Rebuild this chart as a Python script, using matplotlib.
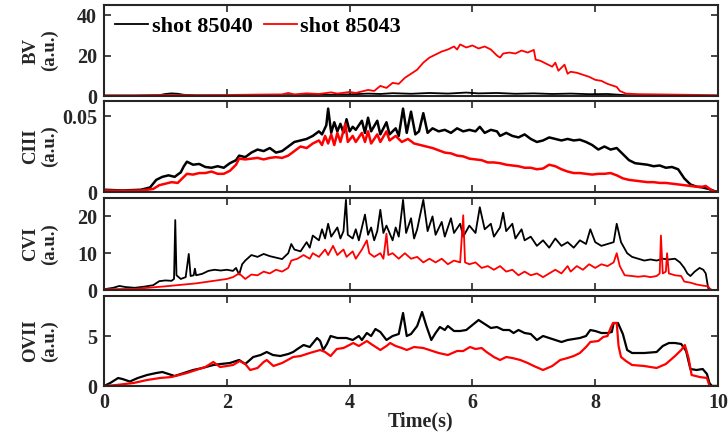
import numpy as np
import matplotlib
matplotlib.use('Agg')
import matplotlib.pyplot as plt

plt.rcParams['font.family'] = ['Liberation Serif', 'DejaVu Serif']
plt.rcParams['font.weight'] = 'bold'

shots = ['shot 85040', 'shot 85043']
colors = ['k', 'r']

# BV signal
bv_t_40 = [0, 0.5, 0.9, 1.0, 1.1, 1.2, 1.3, 1.5, 2.0, 2.5, 3.0, 3.5, 4.0, 4.3, 4.5, 4.7, 5.0, 5.3,
           5.6, 5.9, 6.1, 6.4, 6.7, 7.0, 7.3, 7.6, 7.9, 8.2, 8.5, 9.0, 10]
bv_v_40 = [0.2, 0.2, 0.4, 1.0, 1.3, 1.1, 0.6, 0.3, 0.2, 0.3, 0.4, 0.5, 0.8, 1.2, 1.0, 1.4, 1.1, 1.5,
           1.2, 1.7, 1.3, 1.5, 1.1, 1.3, 1.0, 1.2, 0.9, 1.0, 0.4, 0.2, 0.1]
bv_t_43 = [0, 0.5, 1.0, 1.5, 2.0, 2.5, 2.9, 3.0, 3.1, 3.3, 3.5, 3.7, 3.8, 4.0, 4.1, 4.3, 4.4, 4.5,
           4.6, 4.7, 4.8, 4.9, 5.0, 5.1, 5.2, 5.3, 5.4, 5.5, 5.6, 5.7, 5.75, 5.8, 5.9, 6.0, 6.1,
           6.2, 6.3, 6.4, 6.45, 6.5, 6.6, 6.7, 6.8, 6.9, 7.0, 7.03, 7.1, 7.2, 7.3, 7.35, 7.4, 7.5,
           7.55, 7.6, 7.7, 7.8, 7.9, 8.0, 8.1, 8.2, 8.3, 8.35, 8.4, 8.5, 8.7, 9.0, 9.5, 10]
bv_v_43 = [0.3, 0.3, 0.5, 0.4, 0.5, 0.7, 0.8, 1.5, 0.8, 1.3, 1.0, 1.8, 1.2, 2.0, 1.5, 3.0, 2.5, 5.0,
           4.0, 6.5, 6.0, 9.0, 11.0, 13.0, 16.5, 19.0, 20.5, 22.0, 23.0, 24.5, 23.0, 25.5, 24.0, 25.0, 23.5,
           24.5, 23.0, 20.0, 19.0, 21.0, 21.5, 21.0, 22.5, 21.5, 22.8, 18.0, 17.5, 16.0, 14.5, 16.5, 12.5, 15.5,
           11.0, 12.0, 11.5, 10.5, 9.5, 8.0, 7.5, 6.0, 5.0, 4.5, 2.5, 1.2, 0.9, 0.8, 0.6, 0.4]

# CIII signal
c3_t_40 = [0, 0.3, 0.6, 0.75, 0.85, 0.95, 1.05, 1.15, 1.25, 1.3, 1.35, 1.45, 1.55, 1.65, 1.75, 1.85,
           1.95, 2.05, 2.15, 2.2, 2.3, 2.4, 2.5, 2.6, 2.7, 2.8, 2.9, 3.0, 3.1, 3.2, 3.3, 3.4, 3.5,
           3.55, 3.62, 3.65, 3.7, 3.75, 3.8, 3.85, 3.9, 3.95, 4.0, 4.05, 4.1, 4.2, 4.25, 4.3, 4.35,
           4.45, 4.5, 4.6, 4.65, 4.75, 4.8, 4.87, 4.93, 5.0, 5.07, 5.13, 5.2, 5.27, 5.35, 5.45, 5.55,
           5.65, 5.75, 5.85, 5.95, 6.05, 6.12, 6.2, 6.3, 6.4, 6.45, 6.55, 6.65, 6.75, 6.85, 6.95,
           7.05, 7.15, 7.25, 7.35, 7.45, 7.55, 7.65, 7.75, 7.85, 7.95, 8.05, 8.15, 8.25, 8.35, 8.45,
           8.55, 8.65, 8.75, 8.85, 8.95, 9.05, 9.15, 9.25, 9.35, 9.45, 9.55, 9.65, 9.75, 9.85, 9.95, 10]
c3_v_40 = [0.0015, 0.0010, 0.0015, 0.003, 0.008, 0.010, 0.011, 0.010, 0.013, 0.017, 0.020, 0.018,
           0.0185, 0.0165, 0.016, 0.017, 0.016, 0.019, 0.021, 0.024, 0.023, 0.026, 0.028, 0.027,
           0.029, 0.026, 0.027, 0.030, 0.033, 0.034, 0.035, 0.037, 0.040, 0.038, 0.044, 0.055,
           0.039, 0.046, 0.040, 0.045, 0.039, 0.048, 0.040, 0.043, 0.041, 0.047, 0.039, 0.049,
           0.040, 0.047, 0.038, 0.046, 0.038, 0.042, 0.037, 0.055, 0.039, 0.053, 0.038, 0.040,
           0.052, 0.039, 0.042, 0.040, 0.041, 0.039, 0.042, 0.040, 0.041, 0.040, 0.043, 0.039,
           0.041, 0.040, 0.037, 0.039, 0.037, 0.036, 0.038, 0.035, 0.033, 0.034, 0.036, 0.035,
           0.034, 0.035, 0.034, 0.0345, 0.033, 0.031, 0.028, 0.030, 0.028, 0.029, 0.025, 0.021,
           0.019, 0.0185, 0.018, 0.017, 0.0175, 0.016, 0.0165, 0.015, 0.009, 0.005, 0.0035, 0.003,
           0.002, 0.0005, 0.0003]
c3_t_43 = [0, 0.3, 0.6, 0.8, 0.9, 1.0, 1.1, 1.2, 1.3, 1.35, 1.45, 1.55, 1.65, 1.75, 1.85, 1.95,
           2.05, 2.15, 2.2, 2.3, 2.4, 2.5, 2.6, 2.7, 2.8, 2.9, 3.0, 3.1, 3.2, 3.3, 3.4, 3.5, 3.55,
           3.6, 3.65, 3.7, 3.75, 3.8, 3.85, 3.93, 3.97, 4.05, 4.1, 4.2, 4.25, 4.3, 4.35, 4.45, 4.5,
           4.6, 4.65, 4.75, 4.85, 4.95, 5.05, 5.15, 5.25, 5.35, 5.45, 5.55, 5.65, 5.75, 5.85, 5.95,
           6.05, 6.15, 6.25, 6.35, 6.45, 6.55, 6.65, 6.75, 6.85, 6.95, 7.05, 7.15, 7.25, 7.35, 7.45,
           7.55, 7.65, 7.75, 7.85, 7.95, 8.05, 8.15, 8.25, 8.35, 8.45, 8.55, 8.65, 8.75, 8.85, 8.95,
           9.05, 9.15, 9.25, 9.35, 9.45, 9.55, 9.65, 9.75, 9.8, 9.85, 9.92, 10]
c3_v_43 = [0.0010, 0.0008, 0.0010, 0.002, 0.0045, 0.0055, 0.0065, 0.006, 0.010, 0.012, 0.0115,
           0.0125, 0.0125, 0.0135, 0.012, 0.012, 0.014, 0.018, 0.022, 0.0215, 0.022, 0.0225, 0.0215,
           0.0225, 0.023, 0.0225, 0.024, 0.027, 0.030, 0.029, 0.032, 0.034, 0.031, 0.037, 0.032,
           0.038, 0.031, 0.039, 0.033, 0.045, 0.033, 0.037, 0.033, 0.039, 0.033, 0.040, 0.032,
           0.038, 0.033, 0.040, 0.034, 0.037, 0.033, 0.035, 0.032, 0.031, 0.030, 0.029, 0.0275,
           0.026, 0.0255, 0.024, 0.0235, 0.022, 0.0215, 0.021, 0.0195, 0.0195, 0.019, 0.018, 0.0175,
           0.017, 0.016, 0.016, 0.015, 0.0155, 0.018, 0.017, 0.015, 0.0135, 0.0125, 0.0125, 0.012,
           0.0115, 0.012, 0.012, 0.0125, 0.011, 0.009, 0.008, 0.0075, 0.007, 0.0065, 0.0065, 0.006,
           0.006, 0.0055, 0.005, 0.0045, 0.004, 0.0035, 0.0035, 0.004, 0.0025, 0.0005, 0.0003]

# CVI signal
c6_t_40 = [0, 0.15, 0.25, 0.35, 0.5, 0.65, 0.8, 0.9, 1.0, 1.1, 1.14, 1.16, 1.18, 1.25, 1.33, 1.38,
           1.41, 1.46, 1.48, 1.5, 1.6, 1.7, 1.8, 1.9, 2.0, 2.1, 2.15, 2.2, 2.25, 2.3, 2.4, 2.5, 2.6,
           2.7, 2.8, 2.9, 3.0, 3.05, 3.1, 3.2, 3.3, 3.35, 3.4, 3.5, 3.55, 3.6, 3.65, 3.7, 3.8, 3.85,
           3.9, 3.94, 3.97, 4.05, 4.1, 4.15, 4.25, 4.3, 4.35, 4.4, 4.45, 4.5, 4.55, 4.6, 4.7, 4.75,
           4.8, 4.87, 4.92, 5.0, 5.05, 5.1, 5.2, 5.27, 5.35, 5.4, 5.5, 5.55, 5.65, 5.7, 5.8, 5.85,
           5.95, 6.05, 6.12, 6.2, 6.3, 6.35, 6.45, 6.5, 6.55, 6.65, 6.7, 6.8, 6.85, 6.95, 7.05, 7.15,
           7.25, 7.35, 7.45, 7.55, 7.65, 7.75, 7.85, 7.92, 8.0, 8.1, 8.2, 8.3, 8.35, 8.42, 8.52, 8.6,
           8.7, 8.8, 8.9, 9.0, 9.1, 9.2, 9.3, 9.38, 9.45, 9.5, 9.55, 9.62, 9.7, 9.76, 9.8, 9.84, 9.9, 10]
c6_v_40 = [0.2, 0.6, 1.1, 0.8, 0.6, 0.9, 1.3, 2.4, 2.6, 2.5, 3.0, 19.0, 4.0, 3.0, 3.5, 9.8,
           3.8, 4.0, 5.8, 4.0, 4.4, 5.2, 5.5, 5.3, 5.5, 5.2, 6.0, 4.2, 7.0, 8.0, 9.5, 9.0, 9.8,
           9.2, 8.8, 8.4, 10.0, 12.5, 11.0, 10.5, 13.0, 11.5, 14.8, 13.5, 16.5, 14.0, 18.0, 14.5, 17.0, 14.0,
           16.0, 24.5, 15.0, 14.0, 16.5, 13.5, 20.5, 15.0, 17.0, 13.5, 16.0, 21.8, 15.5, 17.5, 13.5, 17.0,
           14.5, 24.5, 15.5, 19.5, 14.0, 16.5, 24.5, 16.0, 20.0, 15.0, 18.5, 14.5, 19.5, 15.5, 18.0, 14.5,
           17.5, 15.5, 22.5, 16.5, 18.0, 14.5, 17.0, 21.0, 16.0, 18.0, 14.0, 16.5, 13.5, 14.5, 12.0, 13.5,
           11.5, 14.0, 12.0, 13.0, 11.5, 13.5, 12.5, 16.5, 13.0, 12.0, 12.5, 13.0, 18.0, 13.0, 10.0, 9.0,
           8.5, 8.0, 8.3, 8.0, 8.5, 8.3, 8.5, 7.5, 6.0, 4.5, 3.8, 5.0, 6.0, 5.5, 4.5, 0.5, 0.0, 0.0]
c6_t_43 = [0, 0.5, 1.0, 1.5, 2.0, 2.1, 2.2, 2.3, 2.4, 2.5, 2.6, 2.7, 2.8, 2.9, 3.0, 3.05, 3.15,
           3.25, 3.35, 3.4, 3.5, 3.6, 3.65, 3.73, 3.8, 3.9, 3.95, 4.05, 4.1, 4.2, 4.28, 4.32, 4.4,
           4.5, 4.55, 4.6, 4.63, 4.7, 4.8, 4.9, 5.0, 5.1, 5.2, 5.3, 5.4, 5.5, 5.6, 5.7, 5.8, 5.85,
           5.88, 5.95, 6.05, 6.15, 6.25, 6.35, 6.45, 6.55, 6.65, 6.75, 6.85, 6.95, 7.05, 7.15, 7.25,
           7.35, 7.45, 7.55, 7.6, 7.7, 7.8, 7.9, 8.0, 8.1, 8.2, 8.3, 8.35, 8.4, 8.48, 8.6, 8.7, 8.8,
           8.9, 9.0, 9.05, 9.07, 9.1, 9.15, 9.17, 9.2, 9.3, 9.4, 9.45, 9.55, 9.65, 9.75, 9.84, 9.88, 10]
c6_v_43 = [0.2, 0.3, 1.0, 1.8, 3.0, 3.5, 4.5, 3.0, 4.2, 4.0, 5.0, 4.5, 5.5, 5.0, 6.0, 8.0, 8.5,
           9.5, 8.5, 10.0, 9.0, 11.0, 9.5, 12.0, 9.5, 11.0, 9.0, 10.5, 8.5, 11.0, 13.5, 10.0, 9.0,
           10.0, 8.5, 15.3, 9.5, 10.0, 8.5, 10.0, 8.5, 9.0, 7.5, 8.5, 7.5, 8.5, 7.0, 8.0, 7.5, 20.3,
           7.5, 7.0, 7.5, 6.0, 6.5, 5.5, 6.5, 5.0, 5.5, 4.0, 5.0, 4.0, 4.5, 3.5, 4.5,
           5.5, 4.5, 6.5, 5.0, 6.5, 5.5, 7.0, 6.0, 7.0, 6.5, 7.5, 10.0, 6.5, 4.0, 3.8, 3.6, 3.8,
           3.5, 3.8, 4.5, 14.8, 4.5, 5.0, 10.0, 4.5, 4.0, 3.8, 2.3, 2.0, 1.5, 1.2, 1.0, 0.0, 0.0]

# OVII signal
o7_t_40 = [0, 0.1, 0.23, 0.3, 0.42, 0.55, 0.7, 0.85, 0.95, 1.05, 1.15, 1.3, 1.45, 1.6, 1.78, 1.9,
           2.05, 2.2, 2.3, 2.43, 2.55, 2.65, 2.75, 2.87, 3.0, 3.08, 3.15, 3.25, 3.35, 3.47, 3.52, 3.57,
           3.63, 3.69, 3.8, 3.95, 4.05, 4.15, 4.2, 4.28, 4.35, 4.42, 4.5, 4.6, 4.7, 4.8, 4.87, 4.93,
           5.0, 5.1, 5.18, 5.25, 5.33, 5.4, 5.47, 5.55, 5.6, 5.7, 5.8, 5.9, 6.0, 6.1, 6.2, 6.3, 6.4,
           6.5, 6.6, 6.67, 6.75, 6.85, 6.95, 7.05, 7.15, 7.25, 7.35, 7.45, 7.55, 7.65, 7.75, 7.85,
           7.92, 8.0, 8.1, 8.2, 8.27, 8.3, 8.37, 8.45, 8.52, 8.6, 8.8, 9.0, 9.1, 9.2, 9.3, 9.4, 9.48,
           9.55, 9.65, 9.75, 9.82, 9.86, 9.9, 10]
o7_v_40 = [0.0, 0.3, 0.8, 0.7, 0.45, 0.8, 1.1, 1.3, 1.4, 1.2, 1.0, 1.3, 1.6, 1.8, 2.1, 2.2,
           2.3, 2.6, 2.2, 2.9, 3.1, 3.4, 3.1, 3.0, 3.2, 3.4, 3.7, 4.1, 3.9, 4.8, 4.5, 3.6,
           4.2, 5.0, 4.8, 4.8, 4.6, 5.0, 4.6, 5.3, 5.0, 5.7, 5.4, 4.6, 5.0, 5.2, 7.3, 5.0,
           5.2, 6.0, 7.4, 6.0, 4.6, 5.3, 5.9, 5.6, 6.0, 5.5, 5.5, 5.6, 6.1, 6.6, 6.2, 5.8, 5.9,
           5.6, 5.6, 5.3, 5.6, 5.3, 5.2, 4.6, 5.0, 4.8, 4.6, 4.4, 4.6, 4.7, 4.8, 5.0,
           5.6, 5.5, 5.3, 5.3, 5.4, 6.3, 6.3, 5.2, 3.6, 3.3, 3.3, 3.4, 4.0, 4.3, 4.3, 4.2, 3.5,
           1.7, 1.6, 1.7, 1.2, 0.3, 0.0, 0.0]
o7_t_43 = [0, 0.2, 0.48, 0.7, 0.91, 1.1, 1.35, 1.5, 1.65, 1.78, 1.89, 2.0, 2.1, 2.21, 2.3, 2.38,
           2.5, 2.6, 2.65, 2.76, 2.9, 3.08, 3.2, 3.35, 3.52, 3.6, 3.69, 3.79, 3.9, 4.06, 4.15, 4.28,
           4.35, 4.45, 4.5, 4.6, 4.66, 4.75, 4.85, 4.93, 5.05, 5.2, 5.3, 5.45, 5.6, 5.75, 5.85, 5.96,
           6.05, 6.15, 6.23, 6.35, 6.45, 6.55, 6.65, 6.78, 6.9, 7.0, 7.15, 7.3, 7.43, 7.55, 7.65,
           7.75, 7.85, 7.92, 8.05, 8.13, 8.2, 8.25, 8.29, 8.35, 8.38, 8.42, 8.5, 8.6, 8.8, 9.0, 9.15,
           9.3, 9.4, 9.46, 9.52, 9.57, 9.7, 9.82, 9.86, 10]
o7_v_43 = [0.0, 0.1, 0.3, 0.6, 0.8, 0.9, 1.3, 1.6, 1.9, 2.4, 1.9, 2.0, 2.1, 2.5, 2.2, 1.6,
           1.8, 2.4, 2.6, 2.0, 2.3, 2.9, 3.0, 3.3, 3.6, 3.4, 3.0, 3.7, 3.8, 4.3, 4.0, 4.5,
           4.2, 3.8, 3.6, 4.0, 4.3, 4.0, 3.8, 3.6, 3.9, 3.8, 3.6, 3.3, 3.1, 3.5, 3.5, 3.9,
           3.7, 3.8, 3.4, 2.9, 2.6, 2.9, 2.8, 2.6, 2.3, 2.0, 1.6, 2.0, 2.6, 2.8, 3.0,
           3.3, 3.9, 4.4, 4.5, 4.9, 5.0, 5.8, 6.3, 6.3, 4.0, 2.9, 2.5, 2.1, 2.0, 1.8, 2.2,
           3.0, 3.6, 4.1, 2.8, 1.1, 0.9, 0.8, 0.0, 0.0]

panels = [
    ('BV', (bv_t_40, bv_v_40), (bv_t_43, bv_v_43), 45, [0, 20, 40], ['0', '20', '40'], 1.3),
    ('CIII', (c3_t_40, c3_v_40), (c3_t_43, c3_v_43), 0.06, [0, 0.05], ['0', '0.05'], 1.8),
    ('CVI', (c6_t_40, c6_v_40), (c6_t_43, c6_v_43), 25, [0, 10, 20], ['0', '10', '20'], 1.3),
    ('OVII', (o7_t_40, o7_v_40), (o7_t_43, o7_v_43), 9, [0, 5], ['0', '5'], 1.6),
]

# panel bottoms and heights in figure fraction (top to bottom)
bottoms = [0.7823, 0.5646, 0.3424, 0.1247]
heights = [0.2063, 0.2063, 0.2086, 0.2041]
left, width = 0.1429, 0.8434
fs = 14.5

fig = plt.figure(figsize=(7.28, 4.41), dpi=100)
frame = '#262626'
axes = []
for i, (name, s40, s43, ytop, yt, ytl, lw) in enumerate(panels):
    ax = fig.add_axes([left, bottoms[i], width, heights[i]])
    ax.plot(s40[0], s40[1], color=colors[0], lw=lw, label=shots[0])
    ax.plot(s43[0], s43[1], color=colors[1], lw=lw, label=shots[1])
    ax.set_xlim(0, 10)
    ax.set_ylim(0, ytop)
    ax.set_xticks(np.arange(0, 11, 2))
    ax.set_yticks(yt)
    ax.set_yticklabels(ytl)
    ax.tick_params(direction='in', top=True, right=True, length=5, width=1.2,
                   colors=frame, labelcolor=frame, labelsize=fs, pad=5)
    for sp in ax.spines.values():
        sp.set_color(frame)
        sp.set_linewidth(1.5)
    ax.set_ylabel(name + '\n(a.u.)', fontsize=13.5, fontweight='bold', color=frame,
                  linespacing=1.1)
    ax.yaxis.set_label_coords(-0.075, 0.5)
    for lab in ax.get_yticklabels() + ax.get_xticklabels():
        lab.set_fontweight('bold')
    if i < 3:
        ax.tick_params(labelbottom=False)
    axes.append(ax)

axes[0].legend(loc='upper left', ncol=2, frameon=False,
               handlelength=1.5, handletextpad=0.15, columnspacing=0.5,
               borderaxespad=0.1, bbox_to_anchor=(0.0, 1.0),
               prop={'weight': 'bold', 'size': 16})
axes[3].set_xlabel('Time(s)', fontsize=fs, fontweight='bold', color=frame, labelpad=1)
axes[3].xaxis.set_label_coords(0.515, -0.28)

fig.savefig('out.png', dpi=100)
